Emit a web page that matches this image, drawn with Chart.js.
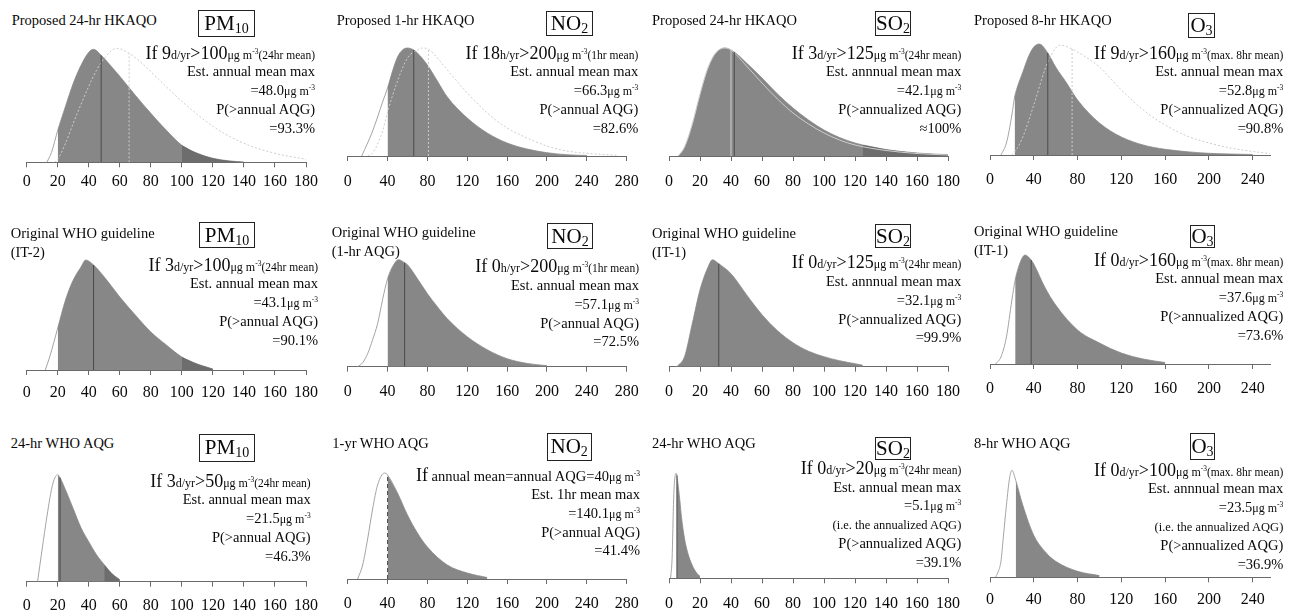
<!DOCTYPE html>
<html>
<head>
<meta charset="utf-8">
<title>Annual mean distributions</title>
<script src="https://cdn.jsdelivr.net/npm/chart.js@4.4.1/dist/chart.umd.min.js"></script>
<style>
  body { margin: 0; width: 1295px; height: 614px; overflow: hidden; position: relative; background: #fff;
         font-family: "Liberation Serif", "Times New Roman", serif; color: #0a0a0a; }
  canvas { position: absolute; }
  .title { position: absolute; white-space: nowrap; font-size: 14.5px; line-height: 19px; }
  .box { position: absolute; box-sizing: border-box; border: 1px solid #222; text-align: center; font-size: 21px; white-space: nowrap; }
  .box sub { font-size: 14px; vertical-align: -3px; line-height: 0; }
  .note { position: absolute; text-align: right; white-space: nowrap; font-size: 14.5px; }
  .note div { height: 18.8px; line-height: 18.8px; }
  .big { font-size: 18px; }
  .sm { font-size: 12px; }
  .xs { font-size: 11.5px; }
  .ie { font-size: 12.5px; }
  .note sup { font-size: 7.5px; vertical-align: 5px; line-height: 0; }
</style>
</head>
<body>
<script>
// x axis tick labels
const ticksPm10 = [0, 20, 40, 60, 80, 100, 120, 140, 160, 180];
const ticksNo2 = [0, 40, 80, 120, 160, 200, 240, 280];
const ticksSo2 = [0, 20, 40, 60, 80, 100, 120, 140, 160, 180];
const ticksO3 = [0, 40, 80, 120, 160, 200, 240];

// Row 1: proposed HKAQO (solid = estimated, dotted = reference curve)
const hkPm10X = [13, 16, 20, 25, 30, 35, 40, 43, 48, 55, 60, 70, 80, 90, 100, 110, 120, 130, 140];
const hkPm10Y = [0, 10, 32, 56, 79, 97, 110, 113, 107, 95, 86, 67, 49, 32, 17, 9, 4, 1.5, 0.3];
const hkPm10RefX = [18, 20, 25, 30, 35, 40, 45, 50, 58, 66, 75, 85, 100, 120, 140, 160, 180];
const hkPm10RefY = [0, 3, 19, 39, 58, 76, 92, 104, 114, 109, 98, 83, 61, 36, 19, 9, 3];

const hkNo2X = [14, 20, 25, 30, 35, 40, 45, 50, 55, 60, 66.3, 70, 80, 90, 100, 120, 140, 160, 180, 200, 220, 240];
const hkNo2Y = [0, 13, 25, 39, 54, 68, 85, 99, 106, 108, 106, 103, 91, 75, 59, 38, 23, 13, 7, 3.3, 1.3, 0.5];
const hkNo2RefX = [20, 25, 30, 35, 40, 50, 60, 70, 75, 81, 90, 100, 120, 140, 160, 180, 200, 220, 240, 270];
const hkNo2RefY = [0, 3, 12, 25, 44, 75, 98, 106, 108, 107, 98, 86, 63, 43, 28, 18, 10, 5, 2.7, 0.7];

const hkSo2X = [6, 10, 15, 20, 25, 30, 36, 42.1, 50, 60, 70, 80, 90, 100, 110, 120, 125, 130, 140, 150, 160, 170, 180];
const hkSo2Y = [0, 8, 30, 60, 86, 102, 108, 104, 93, 78, 62, 48, 36, 26, 18.5, 13, 11, 9.5, 6.5, 4.5, 3, 2, 1.3];
const hkSo2RefX = [6, 10, 15, 20, 25, 30, 36, 40, 50, 60, 70, 80, 90, 100, 110, 120, 140, 160, 180];
const hkSo2RefY = [0, 9, 32, 62, 88, 103, 108, 106, 90, 73, 57, 43, 32, 23, 16, 11, 5.5, 2.5, 1];

const hkO3X = [10, 15, 20, 22.5, 25, 30, 35, 40, 45, 52.8, 60, 70, 80, 100, 120, 140, 160, 180, 200, 220, 240];
const hkO3Y = [0, 12, 40, 58, 68, 83, 98, 108, 111, 102, 88, 72, 55, 32, 18, 10, 5.7, 3.3, 1.7, 1, 0.5];
const hkO3RefX = [20, 25, 30, 40, 50, 55, 64, 75, 80, 100, 120, 140, 160, 180, 200, 220, 240, 256];
const hkO3RefY = [0, 7, 18, 50, 85, 98, 110, 106, 103, 88, 65, 45, 30, 19, 12, 7, 3.5, 1.5];

// Row 2: original WHO guideline
const itPm10X = [12, 15, 20, 25, 30, 35, 38, 43.1, 50, 60, 70, 80, 90, 100, 110, 120];
const itPm10Y = [0, 14, 42, 70, 90, 103, 110, 105, 93, 73, 55, 38, 25, 13, 6, 1];
const itNo2X = [10, 15, 20, 25, 30, 35, 40, 45, 51, 57.1, 60, 70, 80, 90, 100, 120, 140, 160, 180, 200];
const itNo2Y = [0, 4, 13, 27, 43, 67, 88, 100, 107, 104, 102, 88, 73, 60, 48, 30, 17, 8, 3.3, 1];
const itSo2X = [5, 10, 15, 20, 25, 28, 32.1, 40, 50, 60, 70, 80, 90, 100, 110, 120, 125];
const itSo2Y = [0, 10, 43, 77, 99, 107, 103, 93, 72, 52, 36, 24, 15.5, 10, 6, 3, 1.5];
const itO3X = [5, 10, 15, 20, 23, 27, 32, 37.6, 40, 50, 60, 80, 100, 120, 140, 160];
const itO3Y = [0, 7, 27, 64, 84, 100, 109, 104, 100, 77, 59, 34, 21, 11, 5, 1.5];

// Row 3: WHO AQG
const aqgPm10X = [7, 10, 13, 15, 17, 20, 21.5, 25, 30, 35, 40, 45, 50, 55, 60];
const aqgPm10Y = [0, 33, 65, 84, 99, 107, 104, 92, 73, 54, 40, 27, 17, 8, 2];
const aqgNo2X = [10, 15, 20, 25, 30, 37, 40, 50, 60, 70, 80, 100, 120, 140];
const aqgNo2Y = [0, 14, 40, 70, 94, 106, 104, 86, 64, 46, 32, 14, 6, 1.5];
const aqgSo2X = [1, 2, 3, 4, 4.7, 5.1, 6, 7, 8, 10, 12, 15, 18, 20];
const aqgSo2Y = [0, 20, 80, 103, 105, 103, 92, 78, 62, 40, 26, 13, 5, 2];
const aqgO3X = [5, 8, 10, 12, 15, 18, 20, 23.5, 30, 40, 50, 60, 80, 100];
const aqgO3Y = [0, 7, 16, 38, 72, 100, 107, 97, 72, 42, 26, 16, 6, 1.7];

// estimated means, reference means, shaded ranges
const hkMeans = [48.0, 66.3, 42.1, 52.8];
const hkRefMeans = [66, 81, 40, 75];
const itMeans = [43.1, 57.1, 32.1, 37.6];
const aqgMeans = [21.5, 40, 5.1, 23.5];
const hkShade = [[20, 140], [40, 240], [6, 180], [22.5, 240]];
const itShade = [[20, 120], [40, 200], [5, 125], [23, 160]];
const aqgShade = [[20, 60], [40, 140], [5.1, 20], [23.5, 100]];
const hkExceed = [[100, 140], null, [125, 180], null];
const itExceed = [[100, 120], null, null, null];
const aqgExceed = [[50, 60], null, null, null];

const FILL = '#878787', DARK = '#6d6d6d', EDGE = '#a4a4a4', REF = '#cdcdcd', MEAN = '#4a4a4a', AXIS = '#6a6a6a';
const TICK_FS = 16;

const mu = '<span class="sm">μg m<sup>-3</sup></span>';
function cond(n, per, lim, avg) {
    return `<span class="big">If ${n}</span><span class="sm">${per}</span><span class="big">&gt;${lim}</span>${mu}<span class="xs">(${avg})</span>`;
}
const ie = '<span class="ie">(i.e. the annualized AQG)</span>';

// column geometry (page px of value 0 and of axis max)
const cols = [
    { px0: 26.7, px1: 306, max: 180, ticks: ticksPm10, box: 'PM<sub>10</sub>' },
    { px0: 347.7, px1: 626.7, max: 280, ticks: ticksNo2, box: 'NO<sub>2</sub>' },
    { px0: 669, px1: 948, max: 180, ticks: ticksSo2, box: 'SO<sub>2</sub>' },
    { px0: 990, px1: 1270.2, max: 256, ticks: ticksO3, box: 'O<sub>3</sub>' }
];

const panels = [
    { col: 0, x: hkPm10X, y: hkPm10Y, refX: hkPm10RefX, refY: hkPm10RefY, refMean: hkRefMeans[0], refDash: [2, 2],
      mean: hkMeans[0], shade: hkShade[0], dark: hkExceed[0], axisY: 162.3, labelY: 181.7,
      title: ['Proposed 24-hr HKAQO'], tl: [11.7, 20], boxAt: [198, 10, 57, 27],
      note: [cond('9', 'd/yr', '100', '24hr mean'), 'Est. annual mean max', '=48.0' + mu, 'P(&gt;annual AQG)', '=93.3%'], nt: [315, 53] },
    { col: 1, x: hkNo2X, y: hkNo2Y, refX: hkNo2RefX, refY: hkNo2RefY, refMean: hkRefMeans[1], refDash: [2, 2],
      mean: hkMeans[1], shade: hkShade[1], dark: hkExceed[1], axisY: 156, labelY: 182,
      title: ['Proposed 1-hr HKAQO'], tl: [336.7, 20], boxAt: [546, 10.7, 47, 25.3],
      note: [cond('18', 'h/yr', '200', '1hr mean'), 'Est. annual mean max', '=66.3' + mu, 'P(&gt;annual AQG)', '=82.6%'], nt: [638.3, 53] },
    { col: 2, x: hkSo2X, y: hkSo2Y, refX: hkSo2RefX, refY: hkSo2RefY, refMean: hkRefMeans[2], refDash: [],
      mean: hkMeans[2], shade: hkShade[2], dark: hkExceed[2], axisY: 156, labelY: 181.7,
      title: ['Proposed 24-hr HKAQO'], tl: [652, 20], boxAt: [874.7, 10.7, 36.6, 25.3],
      note: [cond('3', 'd/yr', '125', '24hr mean'), 'Est. annnual mean max', '=42.1' + mu, 'P(&gt;annualized AQG)', '≈100%'], nt: [961.3, 53] },
    { col: 3, x: hkO3X, y: hkO3Y, refX: hkO3RefX, refY: hkO3RefY, refMean: hkRefMeans[3], refDash: [2, 2],
      mean: hkMeans[3], shade: hkShade[3], dark: hkExceed[3], axisY: 155, labelY: 180,
      title: ['Proposed 8-hr HKAQO'], tl: [974, 20], boxAt: [1188, 13, 27, 25],
      note: [cond('9', 'd/yr', '160', 'max. 8hr mean'), 'Est. annual mean max', '=52.8' + mu, 'P(&gt;annualized AQG)', '=90.8%'], nt: [1283.3, 53] },

    { col: 0, x: itPm10X, y: itPm10Y, mean: itMeans[0], shade: itShade[0], dark: itExceed[0], axisY: 370, labelY: 392.7,
      title: ['Original WHO guideline', '(IT-2)'], tl: [10.7, 233], boxAt: [199, 221.7, 56, 26.6],
      note: [cond('3', 'd/yr', '100', '24hr mean'), 'Est. annual mean max', '=43.1' + mu, 'P(&gt;annual AQG)', '=90.1%'], nt: [318, 265] },
    { col: 1, x: itNo2X, y: itNo2Y, mean: itMeans[1], shade: itShade[1], dark: itExceed[1], axisY: 366.7, labelY: 391.7,
      title: ['Original WHO guideline', '(1-hr AQG)'], tl: [331.7, 232.5], boxAt: [546.7, 223, 46.6, 26],
      note: [cond('0', 'h/yr', '200', '1hr mean'), 'Est. annual mean max', '=57.1' + mu, 'P(&gt;annual AQG)', '=72.5%'], nt: [639, 266.7] },
    { col: 2, x: itSo2X, y: itSo2Y, mean: itMeans[2], shade: itShade[2], dark: itExceed[2], axisY: 366.7, labelY: 391.7,
      title: ['Original WHO guideline', '(IT-1)'], tl: [652, 233], boxAt: [874.7, 224, 36.6, 24.3],
      note: [cond('0', 'd/yr', '125', '24hr mean'), 'Est. annnual mean max', '=32.1' + mu, 'P(&gt;annualized AQG)', '=99.9%'], nt: [961.3, 262.7] },
    { col: 3, x: itO3X, y: itO3Y, mean: itMeans[3], shade: itShade[3], dark: itExceed[3], axisY: 364, labelY: 388.3,
      title: ['Original WHO guideline', '(IT-1)'], tl: [974, 231.7], boxAt: [1190, 225, 25, 23.3],
      note: [cond('0', 'd/yr', '160', 'max. 8hr mean'), 'Est. annual mean max', '=37.6' + mu, 'P(&gt;annualized AQG)', '=73.6%'], nt: [1283.3, 260] },

    { col: 0, x: aqgPm10X, y: aqgPm10Y, mean: aqgMeans[0], shade: aqgShade[0], dark: aqgExceed[0], axisY: 581.7, labelY: 606,
      title: ['24-hr WHO AQG'], tl: [10.7, 443.3], boxAt: [199, 434, 56, 27.7],
      note: [cond('3', 'd/yr', '50', '24hr mean'), 'Est. annual mean max', '=21.5' + mu, 'P(&gt;annual AQG)', '=46.3%'], nt: [310.7, 481] },
    { col: 1, x: aqgNo2X, y: aqgNo2Y, mean: aqgMeans[1], meanDash: [4, 3], shade: aqgShade[1], dark: aqgExceed[1], axisY: 579, labelY: 603.3,
      title: ['1-yr WHO AQG'], tl: [332.3, 443.3], boxAt: [546.7, 433.3, 45, 27.7],
      note: ['<span class="big">If</span> annual mean=annual AQG=40' + mu, 'Est. 1hr mean max', '=140.1' + mu, 'P(&gt;annual AQG)', '=41.4%'], nt: [640, 475.7] },
    { col: 2, x: aqgSo2X, y: aqgSo2Y, mean: aqgMeans[2], shade: aqgShade[2], dark: aqgExceed[2], axisY: 578.3, labelY: 603.3,
      title: ['24-hr WHO AQG'], tl: [652, 443.3], boxAt: [874.7, 437, 36.6, 23],
      note: [cond('0', 'd/yr', '20', '24hr mean'), 'Est. annual mean max', '=5.1' + mu, ie, 'P(&gt;annualized AQG)', '=39.1%'], nt: [961.3, 468.3] },
    { col: 3, x: aqgO3X, y: aqgO3Y, mean: null, shade: aqgShade[3], dark: aqgExceed[3], axisY: 577.3, labelY: 600,
      title: ['8-hr WHO AQG'], tl: [974, 443.3], boxAt: [1190, 433, 25, 27],
      note: [cond('0', 'd/yr', '100', 'max. 8hr mean'), 'Est. annnual mean max', '=23.5' + mu, ie, 'P(&gt;annualized AQG)', '=36.9%'], nt: [1283.3, 470] }
];

function pts(xs, ys, lo = -Infinity, hi = Infinity) {
    const out = [];
    xs.forEach((x, i) => { if (x >= lo && x <= hi) out.push({ x: x, y: ys[i] }); });
    return out;
}

function vline(xs, ys, v) {
    return [{ x: v, y: 0 }, { x: v, y: ys[xs.indexOf(v)] }];
}

function addDiv(cls, html, css) {
    const d = document.createElement('div');
    d.className = cls;
    d.innerHTML = html;
    Object.assign(d.style, css);
    document.body.appendChild(d);
    return d;
}

function drawPanel(p) {
    const c = cols[p.col];
    const curve = { cubicInterpolationMode: 'monotone', pointRadius: 0 };
    const ds = [
        { ...curve, data: pts(p.x, p.y), borderColor: EDGE, borderWidth: 1, fill: false, order: 6 },
        { ...curve, data: pts(p.x, p.y, p.shade[0], p.shade[1]), borderColor: 'rgba(0,0,0,0)', backgroundColor: FILL, fill: 'origin', order: 5 }
    ];
    if (p.dark) {
        ds.push({ ...curve, data: pts(p.x, p.y, p.dark[0], p.dark[1]), borderColor: 'rgba(0,0,0,0)', backgroundColor: DARK, fill: 'origin', order: 4 });
    }
    if (p.refX) {
        ds.push({ ...curve, data: pts(p.refX, p.refY), borderColor: REF, borderWidth: 1, borderDash: p.refDash, fill: false, order: 3 });
        ds.push({ data: vline(p.refX, p.refY, p.refMean), borderColor: REF, borderWidth: 1, borderDash: p.refDash, fill: false, pointRadius: 0, tension: 0, order: 2 });
    }
    if (p.mean !== null) {
        ds.push({ data: vline(p.x, p.y, p.mean), borderColor: MEAN, borderWidth: 1, borderDash: p.meanDash || [], fill: false, pointRadius: 0, tension: 0, order: 1 });
    }

    // canvas placed so that the chart area lands on the reference pixels
    const labelPad = p.labelY - p.axisY - 5 - 0.6 * TICK_FS;
    const axisH = 5 + labelPad + 1.2 * TICK_FS;
    const chartTop = p.axisY - 120;
    const cl = Math.floor(c.px0) - 24;
    const cw = Math.ceil(c.px1) + 24 - cl;
    const ct = Math.floor(chartTop) - 4;
    const ch = Math.ceil(p.axisY + axisH + 4) - ct;
    const pad = { left: c.px0 - cl, right: cl + cw - c.px1, top: chartTop - ct, bottom: ct + ch - p.axisY - axisH };

    const cv = document.createElement('canvas');
    cv.width = cw;
    cv.height = ch;
    Object.assign(cv.style, { left: cl + 'px', top: ct + 'px', width: cw + 'px', height: ch + 'px' });
    document.body.appendChild(cv);

    const chart = new Chart(cv, {
        type: 'line',
        data: { datasets: ds },
        options: {
            responsive: false,
            animation: false,
            devicePixelRatio: 1,
            layout: { padding: pad },
            plugins: { legend: { display: false }, tooltip: { enabled: false } },
            scales: {
                x: {
                    type: 'linear', min: 0, max: c.max,
                    afterBuildTicks: s => { s.ticks = c.ticks.map(v => ({ value: v })); },
                    grid: { drawOnChartArea: false, drawTicks: true, tickLength: 5, color: AXIS },
                    border: { display: true, color: AXIS, width: 1 },
                    ticks: { autoSkip: false, maxRotation: 0, padding: labelPad, color: '#0a0a0a',
                             font: { family: 'Liberation Serif', size: TICK_FS } }
                },
                y: { display: false, min: 0, max: 120 }
            }
        }
    });

    // nudge padding if the layout came out slightly off
    const a = chart.chartArea;
    const dl = (c.px0 - cl) - a.left, dr = a.right - (c.px1 - cl);
    const dt = (chartTop - ct) - a.top, db = a.bottom - (p.axisY - ct);
    if (Math.abs(dl) + Math.abs(dr) + Math.abs(dt) + Math.abs(db) > 0.05) {
        chart.options.layout.padding = { left: pad.left + dl, right: pad.right + dr, top: pad.top + dt, bottom: pad.bottom + db };
        chart.update();
    }

    // texts
    addDiv('title', p.title.join('<br>'), { left: p.tl[0] + 'px', top: (p.tl[1] - 9.5) + 'px' });
    const [bx, by, bw, bh] = p.boxAt;
    addDiv('box', c.box, { left: bx + 'px', top: by + 'px', width: bw + 'px', height: bh + 'px', lineHeight: (bh - 2) + 'px' });
    addDiv('note', p.note.map(t => '<div>' + t + '</div>').join(''),
        { right: (1295 - p.nt[0]) + 'px', top: (p.nt[1] - 9.4) + 'px' });
}

panels.forEach(drawPanel);
</script>
</body>
</html>
